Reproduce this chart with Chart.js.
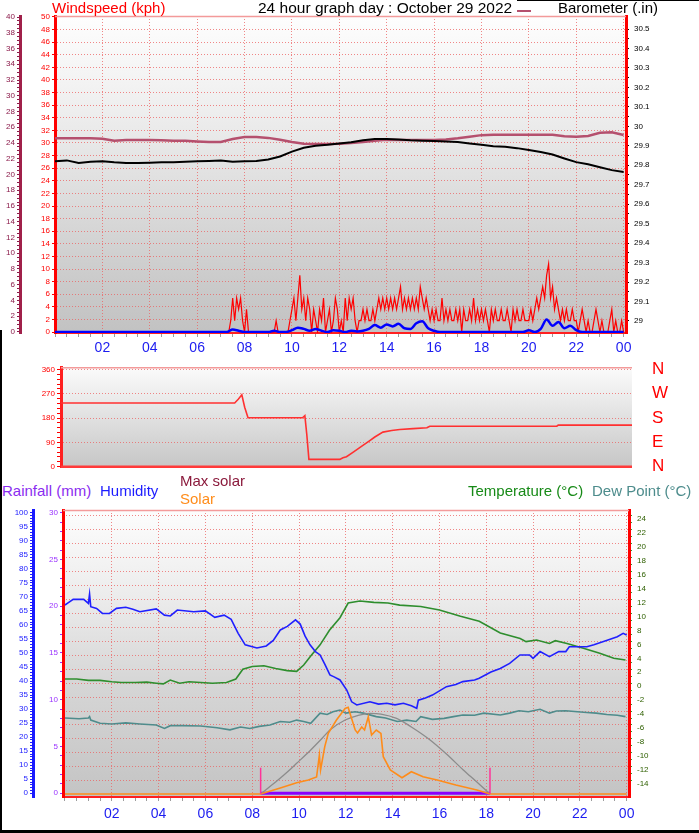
<!DOCTYPE html>
<html>
<head>
<meta charset="utf-8">
<title>24 hour graph day : October 29 2022</title>
<script src="https://cdn.jsdelivr.net/npm/chart.js@4.4.1/dist/chart.umd.min.js"></script>
<style>
  html, body { margin: 0; padding: 0; background: #fff; }
  body { position: relative; width: 699px; height: 833px; overflow: hidden; font-family: "Liberation Sans", Arial, sans-serif; }
  canvas { position: absolute; left: 0; }
  .txt { position: absolute; white-space: nowrap; line-height: 1; font-size: 15px; }
  .bar { position: absolute; background: #000; }
</style>
</head>
<body>
<canvas id="windChart" width="699" height="355" style="top:0"></canvas>
<canvas id="dirChart" width="699" height="125" style="top:355px"></canvas>
<canvas id="tempChart" width="699" height="333" style="top:500px"></canvas>

<div class="txt" style="left:52px;top:0;color:#ff0000">Windspeed (kph)</div>
<div class="txt" style="left:258px;top:0;color:#000;font-size:15.5px">24 hour graph day : October 29 2022</div>
<div style="position:absolute;left:517px;top:10px;width:14px;border-top:2px solid #b5506e"></div>
<div class="txt" style="left:558px;top:0;color:#000">Barometer (.in)</div>

<div class="txt" style="left:2px;top:483px;color:#8a2cf0">Rainfall (mm)</div>
<div class="txt" style="left:100px;top:483px;color:#1c1cff">Humidity</div>
<div class="txt" style="left:180px;top:473px;color:#8b1a3c">Max solar</div>
<div class="txt" style="left:180px;top:491px;color:#ff8c1a">Solar</div>
<div class="txt" style="left:468px;top:483px;color:#178a17">Temperature (°C)</div>
<div class="txt" style="left:592px;top:483px;color:#4d8c8c">Dew Point (°C)</div>

<div class="bar" style="left:0;top:330px;width:2px;height:503px"></div>
<div class="bar" style="left:0;top:830px;width:699px;height:3px"></div>
<div class="bar" style="left:517px;top:0;width:182px;height:1px"></div>

<script>
// ---- data ----
// wind gust, kph, every 5 minutes from 00:00 to 24:00
const gustKph = [
  0,0,0,0,0,0,0,0,0,0,0,0,
  0,0,0,0,0,0,0,0,0,0,0,0,
  0,0,0,0,0,0,0,0,0,0,0,0,
  0,0,0,0,0,0,0,0,0,0,0,0,
  0,0,0,0,0,0,0,0,0,0,0,0,
  0,0,0,0,0,0,0,0,0,0,0,0,
  0,0,0,0,0,0,0,0,0,0,0,0,
  0,0,0,0,0,1.8,5.4,1.8,5.4,3.6,5.4,1.8,
  0,3.6,0,0,0,0,0,0,0,0,0,0,
  0,0,0,0,1.8,0,0,0,0,0,0,1.8,
  3.6,5.4,1.8,5.4,9,3.6,5.4,1.8,5.4,3.6,0,3.6,
  1.8,0,3.6,1.8,5.4,0,1.8,3.6,0,1.8,5.4,3.6,
  0,1.8,0,5.4,1.8,5.4,3.6,5.4,1.8,0,1.8,1.8,
  3.6,1.8,3.6,1.8,1.8,3.6,1.8,3.6,5.4,3.6,5.4,3.6,
  5.4,3.6,5.4,3.6,5.4,3.6,5.4,7.2,3.6,5.4,3.6,5.4,
  3.6,5.4,3.6,5.4,3.6,7.2,5.4,3.6,5.4,3.6,1.8,3.6,
  1.8,3.6,1.8,1.8,5.4,1.8,3.6,1.8,3.6,1.8,1.8,3.6,
  1.8,3.6,0,3.6,1.8,1.8,3.6,1.8,5.4,1.8,3.6,1.8,
  3.6,1.8,3.6,1.8,0,3.6,1.8,3.6,1.8,1.8,3.6,1.8,
  1.8,3.6,1.8,0,3.6,1.8,3.6,1.8,1.8,3.6,1.8,1.8,
  1.8,3.6,1.8,3.6,5.4,3.6,5.4,7.2,5.4,9,10.8,5.4,
  7.2,3.6,5.4,3.6,1.8,3.6,1.8,3.6,1.8,1.8,3.6,1.8,
  1.8,0,1.8,3.6,1.8,0,1.8,0,0,1.8,3.6,1.8,
  0,1.8,0,0,0,1.8,3.6,0,1.8,0,0,1.8,
  0
];
// average wind, kph, every 15 minutes
const avgKph = [
  0,0,0,0, 0,0,0,0, 0,0,0,0, 0,0,0,0, 0,0,0,0, 0,0,0,0, 0,0,0,0,
  0,0,0.4,0.2, 0,0,0,0, 0,0.2,0,0, 0.3,0.7,0.5,0.2,
  0.5,0.2,0,0.3, 0.2,0,0.2,0.1, 0.2,0.5,1.1,0.7, 1.2,0.9,1.3,0.6,
  0.5,1.4,1.7,0.6, 0.2,0,0,0, 0,0,0,0, 0,0,0,0,
  0,0,0,0, 0.3,0,0.5,2.0, 1.0,1.6,0.6,1.0, 0.3,0,0,0,
  0,0,0,0, 0
];
// barometer, inHg, every 30 minutes
const baroInHg = [
  29.82, 29.825, 29.812, 29.818, 29.82, 29.815, 29.812, 29.812,
  29.813, 29.815, 29.816, 29.818, 29.82, 29.822, 29.825, 29.818,
  29.82, 29.822, 29.83, 29.845, 29.87, 29.89, 29.9, 29.905,
  29.912, 29.918, 29.928, 29.935, 29.935, 29.932, 29.928, 29.926,
  29.925, 29.922, 29.92, 29.912, 29.905, 29.898, 29.895, 29.888,
  29.878, 29.868, 29.855, 29.835, 29.816, 29.805, 29.79, 29.775,
  29.765
];
// trace on the outer left scale, every 30 minutes
const outerTrace = [
  24.6, 24.6, 24.6, 24.6, 24.55, 24.3, 24.38, 24.38,
  24.38, 24.35, 24.3, 24.3, 24.2, 24.13, 24.13, 24.5,
  24.75, 24.75, 24.65, 24.4, 24.13, 23.9, 23.88, 23.88,
  23.9, 24.0, 24.13, 24.3, 24.4, 24.38, 24.38, 24.38,
  24.38, 24.45, 24.6, 24.8, 25.0, 25.05, 25.06, 25.06,
  25.06, 25.06, 25.06, 24.85, 24.8, 24.9, 25.3, 25.36,
  25.02
];
// wind direction, degrees
const dirHours = [0, 7.3, 7.45, 7.6, 7.72, 7.86, 10.15, 10.25, 10.33, 10.42, 11.72, 11.85, 12.0,
  12.3, 12.69, 12.95, 13.19, 13.53, 13.9, 14.24, 14.8, 15.38, 15.5, 20.84, 20.9, 24];
const dirDeg = [236, 236, 250, 266, 220, 181, 181, 189, 120, 27, 27, 33, 37,
  55, 79, 95, 110, 128, 134, 138, 141, 144, 150, 150, 154, 154];
// humidity, %
const humHours = [0, 0.1, 0.35, 0.8, 1.0, 1.05, 1.1, 1.35, 1.6, 1.9, 2.2, 2.6, 2.9, 3.2, 3.9, 4.25, 4.5, 4.8, 5.5, 6.0,
  6.4, 6.8, 7.1, 7.4, 7.7, 8.2, 8.6, 8.9, 9.2, 9.5, 9.85, 10.05, 10.26, 10.47, 10.7, 10.9, 11.1, 11.32, 11.5, 11.75,
  12.04, 12.25, 12.47, 13.03, 13.4, 13.75, 14.1, 14.46, 14.8, 15.03, 15.1, 15.4, 15.7, 16.0, 16.3, 16.7, 17.0, 17.5, 17.7, 18.2,
  18.6, 19.0, 19.44, 19.85, 20.0, 20.3, 20.7, 21.1, 21.4, 21.55, 22.0, 22.3, 22.6, 23.2, 23.6, 23.85, 24.0];
const humPct = [67.1, 67.7, 69.1, 69.1, 67.7, 71, 66.5, 65.9, 64.1, 64.1, 65.9, 66.3, 65.6, 64.7, 65.7, 63.5, 63.2, 65.3, 64.7, 65.0,
  62.7, 63.5, 62.0, 57.0, 52.9, 51.8, 52.5, 54.5, 58.2, 59.5, 61.8, 60.3, 56, 52.9, 50.5, 49.3, 46, 42.2, 41.5, 40.4,
  36.8, 32.6, 31.5, 32.6, 31.8, 32.1, 31.5, 32.1, 31.2, 30.3, 33.2, 34, 35, 36.5, 38, 38.8, 39.8, 40.4, 41, 43.2,
  44.5, 46.3, 49.3, 49.3, 48.1, 50.5, 48.7, 50.5, 50.5, 52.2, 52.2, 52.2, 52.9, 54.6, 55.8, 57, 56.4];
// temperature, °C
const tempHours = [0, 0.5, 1.0, 1.5, 2.0, 2.4, 3.0, 3.5, 3.9, 4.2, 4.5, 4.9, 5.3, 5.8, 6.3, 6.9, 7.3, 7.6, 8.0, 8.5,
  9.0, 9.5, 9.9, 10.2, 10.5, 10.9, 11.3, 11.75, 12.1, 12.6, 13.2, 13.8, 14.3, 15.2, 16.0, 16.9, 17.7, 18.6, 19.45,
  19.7, 20.15, 20.7, 20.95, 21.45, 22.15, 22.85, 23.45, 23.95];
const tempC = [0.6, 0.6, 0.4, 0.4, 0.2, 0.1, 0.1, 0.15, 0.0, -0.1, 0.45, 0.0, 0.2, 0.1, 0.0, 0.1, 0.6, 2.0, 2.4, 2.5,
  2.1, 1.8, 1.7, 2.6, 3.9, 5.5, 7.6, 9.4, 11.5, 11.8, 11.6, 11.5, 11.2, 11.0, 10.5, 9.6, 8.9, 7.2, 6.4,
  5.96, 6.2, 5.7, 6.1, 5.7, 5.0, 4.3, 3.57, 3.33];
// dew point, °C
const dewHours = [0, 0.6, 1.0, 1.05, 1.1, 1.5, 2.0, 2.6, 3.2, 3.9, 4.25, 4.5, 5.0, 5.8, 6.5, 7.05, 7.5, 7.9, 8.3, 8.76,
  9.2, 9.6, 9.9, 10.2, 10.5, 10.9, 11.2, 11.45, 11.75, 12.0, 12.4, 12.75, 13.3, 13.7, 14.2, 14.6, 15.0, 15.2, 15.7, 16.2,
  16.6, 17.0, 17.5, 17.9, 18.6, 19.0, 19.4, 19.8, 20.3, 20.7, 21.0, 21.4, 21.9, 22.3, 22.7, 23.15, 23.6, 23.95];
const dewC = [-5.0, -5.1, -5.0, -4.8, -5.3, -5.76, -5.86, -5.7, -5.86, -6.0, -6.5, -6.1, -6.1, -6.15, -6.4, -6.7, -6.3, -6.5, -6.2, -6.0,
  -5.5, -5.6, -5.3, -5.5, -5.76, -4.3, -4.5, -4.1, -3.85, -4.3, -4.1, -4.3, -4.8, -5.0, -5.5, -5.3, -5.5, -4.8, -5.2, -5.05,
  -4.8, -4.57, -4.6, -4.3, -4.57, -4.3, -3.95, -4.1, -3.75, -4.3, -4.0, -3.95, -4.1, -4.2, -4.3, -4.5, -4.6, -4.8];
// solar radiation, W/m²
const solarHours = [0, 8.36, 9.2, 9.9, 10.4, 10.75, 10.87, 10.92, 11.1, 11.25, 11.6, 11.97, 12.1, 12.2, 12.4, 12.5,
  12.68, 12.8, 12.96, 13.1, 13.3, 13.5, 13.6, 13.9, 14.4, 14.8, 15.3, 15.9, 16.7, 17.6, 18.16, 24];
const solarW = [0, 0, 34, 64, 80, 97, 222, 137, 270, 346, 422, 488, 494, 450, 365, 348,
  382, 365, 440, 336, 365, 346, 213, 137, 93, 127, 98, 80, 51, 23, 0, 0];
const maxSolarHours = [8.36, 9.0, 9.5, 9.9, 10.5, 11.0, 11.32, 11.97, 12.5, 13.03, 13.5, 14.17, 14.8, 15.6, 16.3, 17.02, 17.6, 18.16];
const maxSolarW = [0, 68, 125, 175, 251, 319, 365, 422, 447, 460, 456, 431, 382, 308, 228, 137, 68, 0];
// rainfall, mm (shown over the daylight span)
const rainHours = [8.36, 18.16];
const rainMm = [0, 0];
// sunrise / sunset
const sunEvents = [8.36, 18.16];
const sunMarkW = 150;

// ---- tick lists ----
function range(a, b, step) {
  const out = [];
  const n = Math.round((b - a) / step);
  for (let i = 0; i <= n; i++) out.push(Math.round((a + i * step) * 1000) / 1000);
  return out;
}
const hourTicks = range(0, 24, 0.5);
const windTicks = range(0, 50, 2);
const outerTicks = range(0, 40, 0.5);
const baroTicks = range(29, 30.5, 0.05);
const dirTicks = range(0, 360, 18);
const compassTicks = [0, 90, 180, 270, 360];
const compassLabels = ['N', 'E', 'S', 'W', 'N'];
const humTicks = range(0, 100, 1);
const rainTicks = range(0, 30, 1);
const tempTicks = range(-14, 24, 1);

// ---- helpers ----
Chart.defaults.font.family = '"Liberation Sans", Arial, sans-serif';
Chart.defaults.animation = false;
Chart.defaults.events = [];
Chart.defaults.plugins.legend.display = false;
Chart.defaults.plugins.tooltip.enabled = false;

const GRID = 'rgba(236,96,96,0.75)';
const pts = (xs, ys) => ys.map((y, i) => ({x: xs[i], y}));
const every = (step, ys) => ys.map((y, i) => ({x: i * step, y}));
const fixTicks = list => s => { s.ticks = list.map(value => ({value})); };
const tickVal = c => (c.tick ? c.tick.value : NaN);

function trace(label, data, axis, color, width, extra) {
  return Object.assign({label, data, yAxisID: axis, borderColor: color, backgroundColor: color,
    borderWidth: width, pointRadius: 0, fill: false, tension: 0}, extra || {});
}

function panel(stops, top, bottom) {
  return {
    id: 'panel',
    beforeDraw(chart) {
      const {ctx, chartArea: a} = chart;
      const g = ctx.createLinearGradient(0, a.top, 0, a.bottom);
      stops.forEach(s => g.addColorStop(s[0], s[1]));
      ctx.save();
      ctx.fillStyle = g;
      ctx.fillRect(a.left, a.top, a.right - a.left, a.bottom - a.top);
      ctx.restore();
    },
    beforeDatasetsDraw(chart) {
      const {ctx, chartArea: a} = chart;
      ctx.save();
      if (top) {
        ctx.strokeStyle = top; ctx.lineWidth = 1.5;
        ctx.beginPath(); ctx.moveTo(a.left, a.top + 0.5); ctx.lineTo(a.right, a.top + 0.5); ctx.stroke();
      }
      if (bottom) {
        ctx.strokeStyle = bottom; ctx.lineWidth = 2.5;
        ctx.beginPath(); ctx.moveTo(a.left, a.bottom - 1); ctx.lineTo(a.right, a.bottom - 1); ctx.stroke();
      }
      ctx.restore();
    }
  };
}

function hourAxis(min, max, height, pad) {
  return {
    type: 'linear', position: 'bottom', min, max,
    afterBuildTicks: fixTicks(hourTicks),
    afterFit: s => { s.height = height; },
    grid: {color: c => (tickVal(c) > 0 && tickVal(c) % 2 === 0) ? GRID : 'transparent', tickColor: '#9c9c9c', tickLength: 4},
    border: {color: '#ff2020', width: 2, dash: [1, 2]},
    ticks: {autoSkip: false, maxRotation: 0, padding: pad, color: '#1c1cf0', font: {size: 14},
      callback: v => (v > 0 && v % 2 === 0) ? String(v % 24).padStart(2, '0') : ''}
  };
}

function sideAxis(o) {
  return {
    type: 'linear', position: o.pos, weight: o.weight || 0, min: o.min, max: o.max,
    afterBuildTicks: fixTicks(o.ticks),
    afterFit: s => { s.width = o.width; },
    grid: o.grid
      ? {color: o.grid, tickColor: o.tickColor || o.color, tickLength: o.tickLen || 3}
      : {drawOnChartArea: false, tickColor: o.tickColor || o.color, tickLength: o.tickLen || 3},
    border: o.border ? {color: o.border, width: 3, dash: [1, 2]} : {display: false, dash: [1, 2]},
    ticks: {autoSkip: false, color: o.color, padding: o.pad || 2, font: {size: o.font || 8},
      labelOffset: o.offset || 0, callback: o.label}
  };
}

// ---- wind speed and barometer ----
new Chart(document.getElementById('windChart'), {
  type: 'line',
  data: {datasets: [
    trace('Average wind', every(0.25, avgKph), 'yWind', '#0000ff', 2.5, {cubicInterpolationMode: 'monotone'}),
    trace('Gust', every(1 / 12, gustKph), 'yWind', '#ff0000', 1.2),
    trace('Barometer', every(0.5, baroInHg), 'yBaro', '#000000', 2),
    trace('Outer trace', every(0.5, outerTrace), 'yOuter', '#b5506e', 2.5)
  ]},
  options: {
    responsive: false,
    layout: {padding: {top: 16, left: 0, right: 0, bottom: 0}},
    scales: {
      x: hourAxis(0, 24.1, 22, 3),
      yOuter: sideAxis({pos: 'left', weight: 2, min: -0.13, max: 40.13, ticks: outerTicks, width: 20,
        color: '#8b1a4a', border: '#a0204a', label: v => (v % 2 === 0 ? v : '')}),
      yWind: sideAxis({pos: 'left', weight: 1, min: -0.15, max: 50.15, ticks: windTicks, width: 35,
        color: '#ff0000', border: '#ff0000', grid: GRID, label: v => v}),
      yBaro: sideAxis({pos: 'right', min: 28.938, max: 30.567, ticks: baroTicks, width: 73,
        color: '#000000', border: '#ff0000', pad: 5,
        label: v => (Math.round(v * 100) % 10 === 0 ? String(Math.round(v * 10) / 10) : '')})
    }
  },
  plugins: [panel([[0, '#fefefe'], [0.3, '#eeeeee'], [0.55, '#dedede'], [0.8, '#cdcdcd'], [1, '#c2c2c2']], '#f39a9a', null)]
});

// ---- wind direction ----
new Chart(document.getElementById('dirChart'), {
  type: 'line',
  data: {datasets: [
    trace('Wind direction', pts(dirHours, dirDeg), 'yDir', '#ff3030', 1.6)
  ]},
  options: {
    responsive: false,
    layout: {padding: {top: 11, left: 0, right: 0, bottom: 12.3}},
    scales: {
      x: {type: 'linear', min: 0, max: 24, display: false},
      yDir: sideAxis({pos: 'left', min: -3.7, max: 368.4, ticks: dirTicks, width: 61, color: '#ff0000', border: '#ff2020',
        grid: c => (tickVal(c) % 90 === 0 && tickVal(c) > 0) ? GRID : 'transparent', tickLen: 4,
        label: v => (v % 90 === 0 ? v : '')}),
      yCompass: sideAxis({pos: 'right', min: -3.7, max: 368.4, ticks: compassTicks, width: 67, color: '#ff0000',
        tickColor: 'transparent', tickLen: 18, pad: 2, font: 17, label: (v, i) => compassLabels[i]})
    }
  },
  plugins: [panel([[0, '#fbfbfb'], [0.4, '#e6e6e6'], [1, '#c6c6c6']], '#f39a9a', '#ff3a3a')]
});

// ---- temperature, humidity, solar ----
new Chart(document.getElementById('tempChart'), {
  type: 'line',
  data: {datasets: [
    trace('Sunrise', [{x: sunEvents[0], y: 0}, {x: sunEvents[0], y: sunMarkW}], 'ySolar', '#ff3399', 1.5),
    trace('Sunset', [{x: sunEvents[1], y: 0}, {x: sunEvents[1], y: sunMarkW}], 'ySolar', '#ff3399', 1.5),
    trace('Solar', pts(solarHours, solarW), 'ySolar', '#ff8c1a', 1.6),
    trace('Max solar', pts(maxSolarHours, maxSolarW), 'ySolar', '#8c8c8c', 1.3, {cubicInterpolationMode: 'monotone'}),
    trace('Rainfall', pts(rainHours, rainMm), 'yRain', '#8a00ff', 3),
    trace('Humidity', pts(humHours, humPct), 'yHum', '#2020ff', 1.6),
    trace('Dew Point', pts(dewHours, dewC), 'yTemp', '#4f8c8c', 1.6),
    trace('Temperature', pts(tempHours, tempC), 'yTemp', '#2e8e2e', 1.6)
  ]},
  options: {
    responsive: false,
    layout: {padding: {top: 10, left: 0, right: 0, bottom: 0}},
    scales: {
      x: hourAxis(-0.085, 24.1, 36, 5),
      yHum: sideAxis({pos: 'left', weight: 2, min: -1.32, max: 100.96, ticks: humTicks, width: 33,
        color: '#2020ff', border: '#1a1aff', label: v => (v % 5 === 0 ? v : '')}),
      yRain: sideAxis({pos: 'left', weight: 1, min: -0.4, max: 30.29, ticks: rainTicks, width: 30,
        color: '#9a33ff', border: '#ff0000', label: v => (v % 5 === 0 ? v : '')}),
      yTemp: sideAxis({pos: 'right', min: -16.34, max: 24.86, ticks: tempTicks, width: 70,
        color: '#2f6000', tickColor: '#2e9a2e', border: '#ff0000', pad: 5, offset: 3,
        grid: c => (tickVal(c) % 2 === 0) ? GRID : 'transparent', label: v => (v % 2 === 0 ? v : '')}),
      ySolar: {type: 'linear', display: false, min: -17, max: 1619}
    }
  },
  plugins: [panel([[0, '#fdfdfd'], [0.3, '#ececec'], [0.6, '#d6d6d6'], [1, '#c4c4c4']], '#f39a9a', null)]
});
</script>
</body>
</html>
